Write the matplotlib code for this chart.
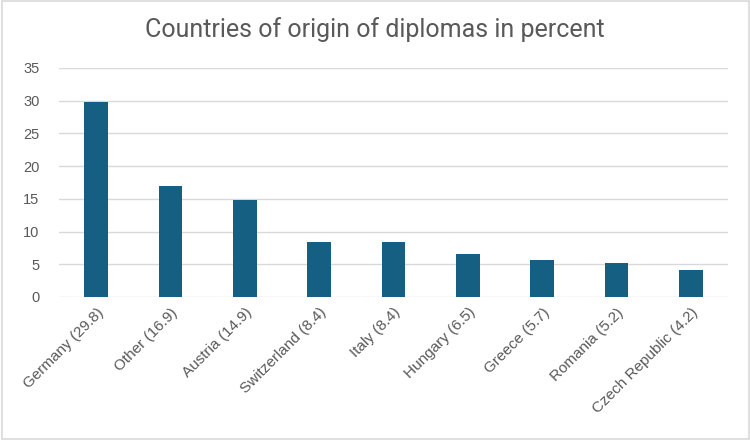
import matplotlib
matplotlib.use("Agg")
import matplotlib.pyplot as plt
from matplotlib.patches import Rectangle

categories = ["Germany (29.8)", "Other (16.9)", "Austria (14.9)", "Switzerland (8.4)",
              "Italy (8.4)", "Hungary (6.5)", "Greece (5.7)", "Romania (5.2)",
              "Czech Republic (4.2)"]
values = [29.8, 16.9, 14.9, 8.4, 8.4, 6.5, 5.7, 5.2, 4.2]
yticks = [0, 5, 10, 15, 20, 25, 30, 35]

plt.rcParams['font.family'] = ['Liberation Sans', 'DejaVu Sans']

fig = plt.figure(figsize=(7.5, 4.4), dpi=100)
ax = fig.add_axes([0.0787, 0.325, 0.892, 0.5205])

x = list(range(len(categories)))
ax.bar(x, values, width=0.32, color="#156082", zorder=3)
ax.set_xlim(-0.5, len(categories) - 0.5)
ax.set_ylim(0, 35)
ax.set_yticks(yticks)
ax.set_yticklabels([str(t) for t in yticks], fontsize=10.5, color="#595959")
ax.set_xticks(x)
ax.set_xticklabels(categories, rotation=45, ha="right", rotation_mode="anchor",
                   fontsize=11, color="#595959")
ax.tick_params(axis="both", length=0)
ax.tick_params(axis="y", pad=14)
ax.tick_params(axis="x", pad=6)
ax.grid(axis="y", color="#d9d9d9", linewidth=1, zorder=0)
for s in ax.spines.values():
    s.set_visible(False)

fig.text(0.5, 0.932, "Countries of origin of diplomas in percent", ha="center", va="center",
         fontsize=18, color="#595959", family=["Roboto", "DejaVu Sans"])

fig.patches.append(Rectangle((0.002, 0.003), 0.996, 0.994, transform=fig.transFigure,
                             fill=False, edgecolor="#d9d9d9", linewidth=1.2))

fig.savefig("out.png", dpi=100)
